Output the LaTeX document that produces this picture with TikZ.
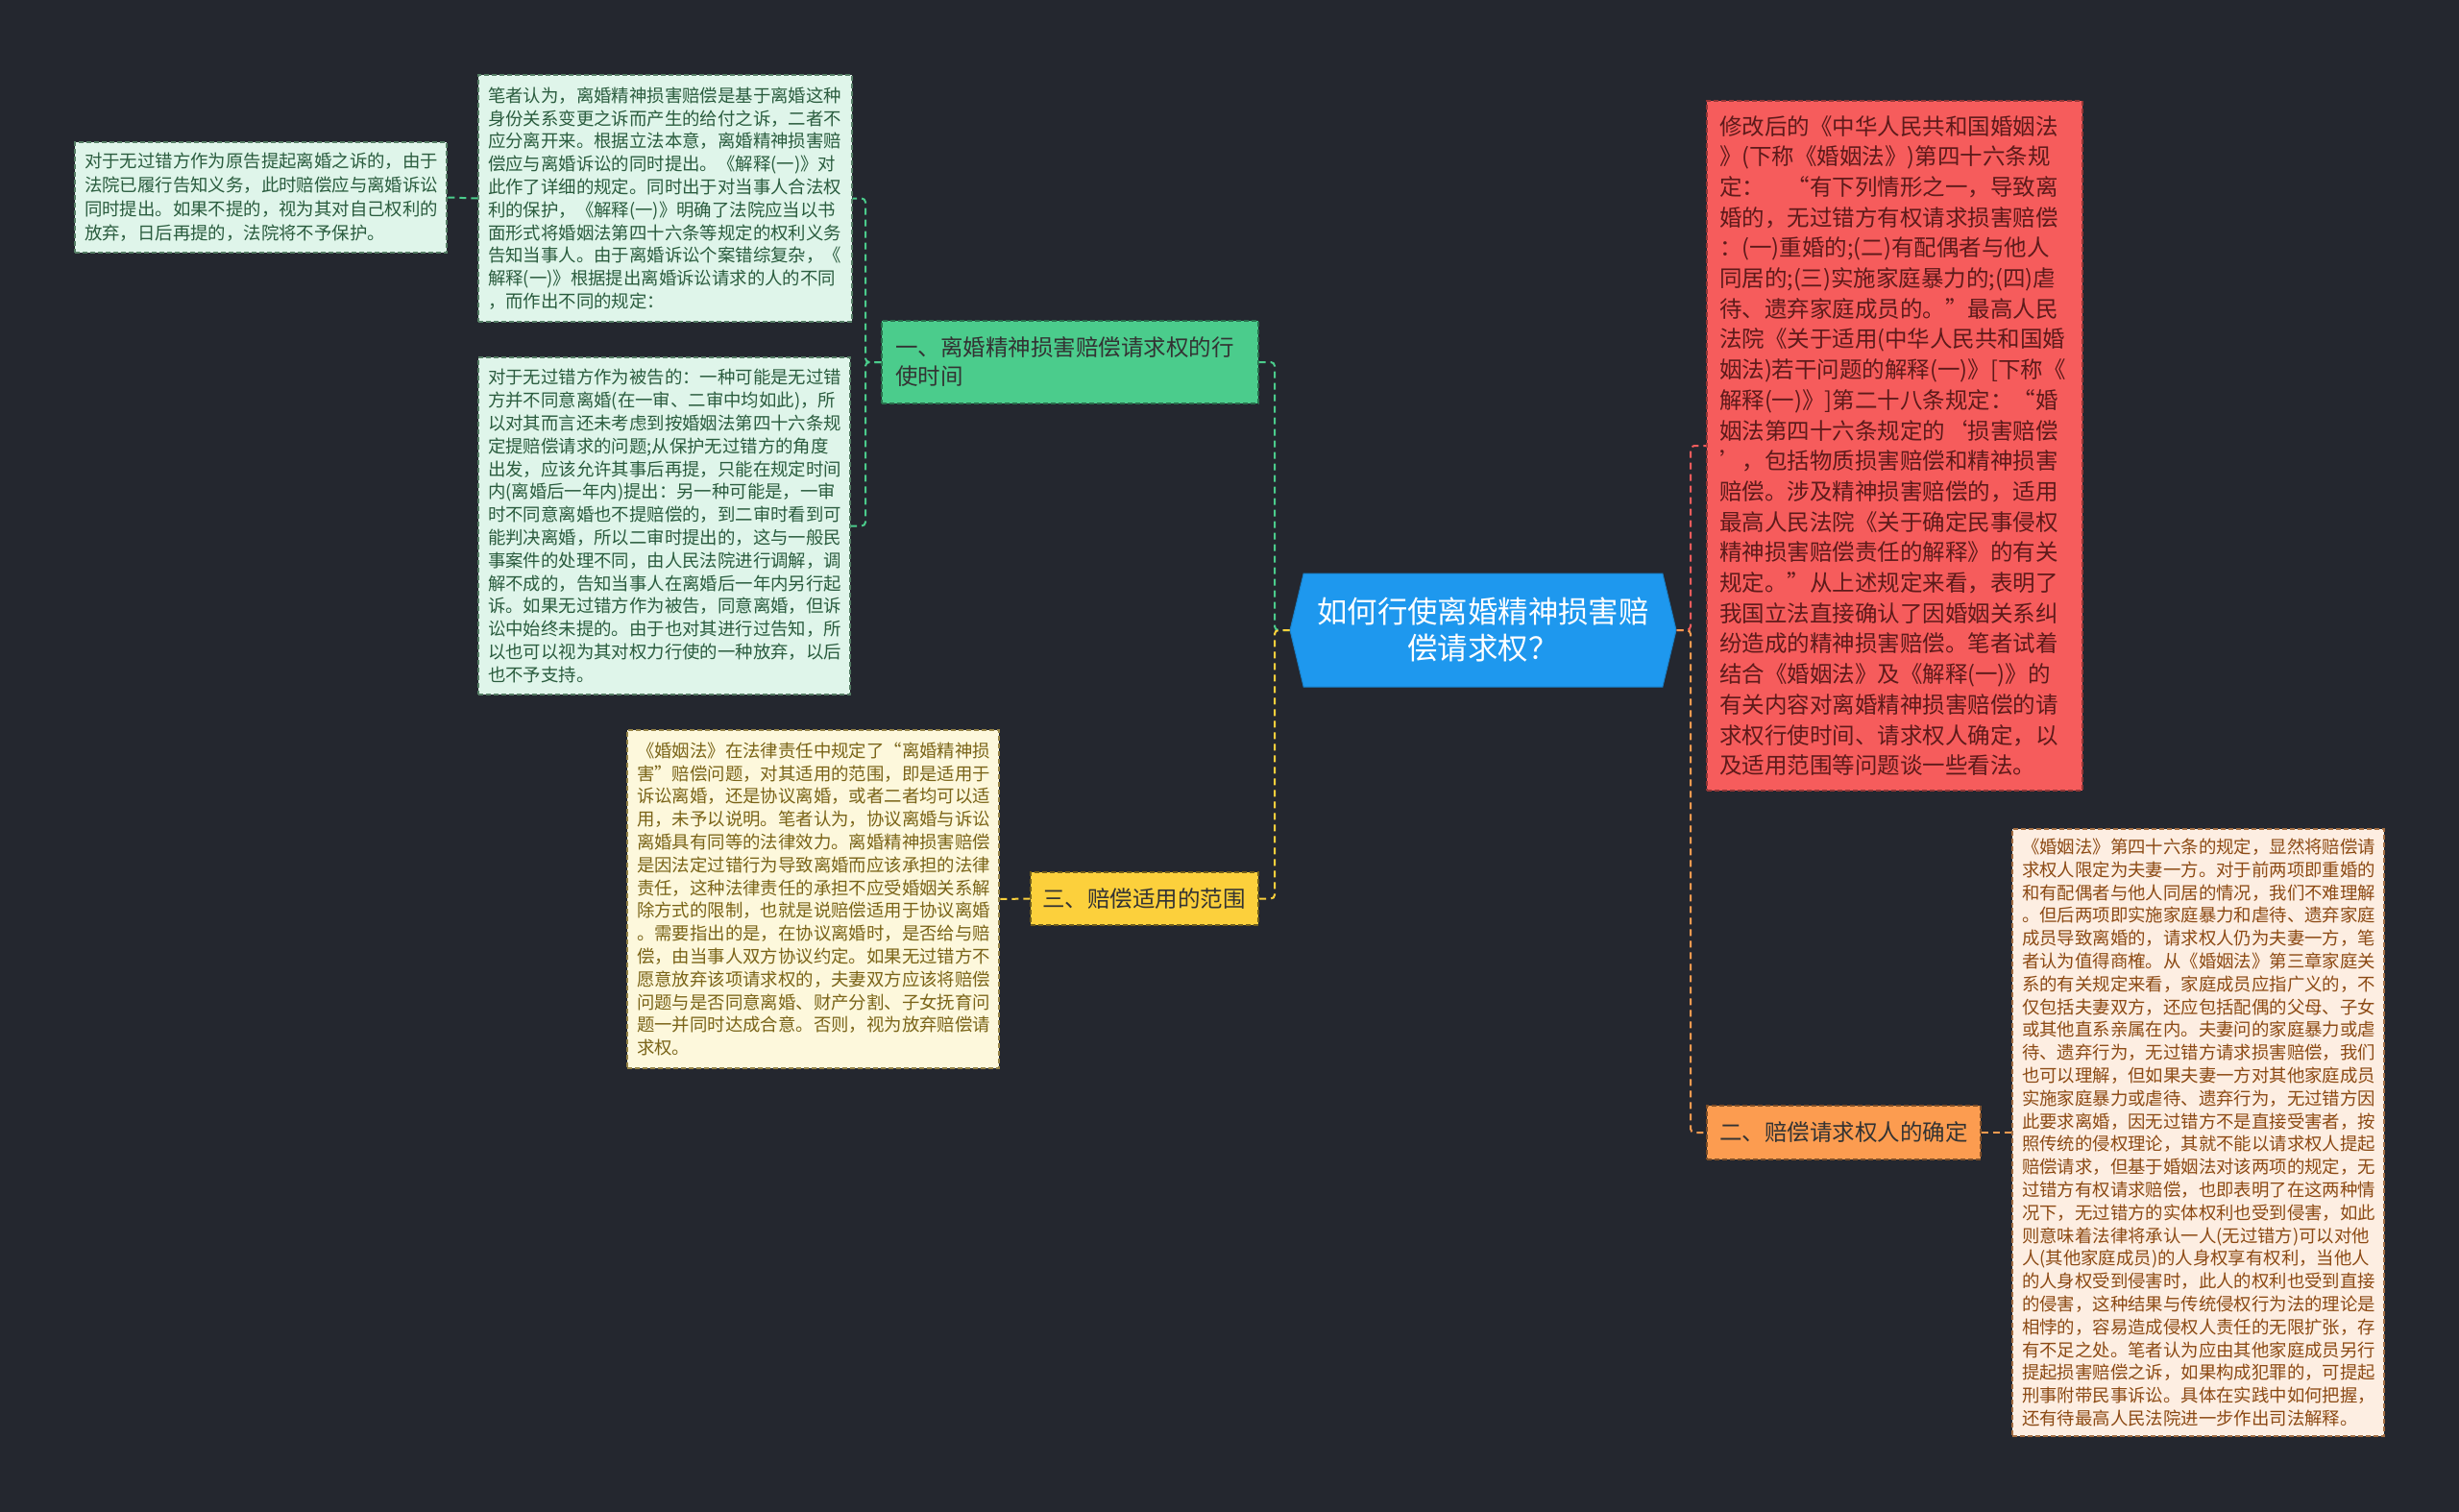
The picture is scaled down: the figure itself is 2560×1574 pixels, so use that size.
\documentclass[tikz,border=0pt]{standalone}
\usepackage{fontspec}
\newfontfamily\cjk{Noto Sans CJK SC}
\usetikzlibrary{shapes.symbols}
\definecolor{bg}{HTML}{24272F}
\definecolor{cblue}{HTML}{1E98EE}
\definecolor{cgreen}{HTML}{4BCC8C}
\definecolor{cgreenl}{HTML}{DFF5EA}
\definecolor{tgreen}{HTML}{2A5C3E}
\definecolor{cyel}{HTML}{FCD03C}
\definecolor{cyell}{HTML}{FDF8DC}
\definecolor{tyel}{HTML}{7A6418}
\definecolor{cred}{HTML}{F65C5C}
\definecolor{tred}{HTML}{5E1A1A}
\definecolor{corg}{HTML}{FC9C50}
\definecolor{corgl}{HTML}{FDEEE2}
\definecolor{torg}{HTML}{8C4A14}
\tikzset{
  box/.style={rectangle, inner sep=0pt, align=left, draw, dashed, line width=1.2pt, dash pattern=on 5pt off 3pt},
  smalltext/.style={font=\cjk\fontsize{18.4pt}{23.8pt}\selectfont},
  midtext/.style={font=\cjk\fontsize{23.5pt}{30pt}\selectfont},
  conn/.style={dashed, line width=2pt, dash pattern=on 7pt off 5pt, rounded corners=4pt},
}
\begin{document}
\begin{tikzpicture}[x=1pt,y=-1pt]
\fill[bg] (0,0) rectangle (2560,1574);
\useasboundingbox (0,0) rectangle (2560,1574);
\coordinate (jl) at (1327,656);
\coordinate (jr) at (1760,656);
\coordinate (jg) at (901,377);

% center
\node[shape=signal, signal to=west and east, signal pointer angle=153, fill=cblue, draw=cblue!85!black, line width=1pt,
  minimum width=402pt, minimum height=118pt, inner sep=0pt, text=white, align=center,
  font=\cjk\fontsize{31.4pt}{38pt}\selectfont] (c) at (1544,656) {如何行使离婚精神损害赔\\偿请求权？};

% green branch
\node[box, midtext, fill=cgreen, draw=cgreen!55!black, text=black!80, minimum width=392pt, minimum height=86pt, text width=364pt] (g) at (1114,377) {一、离婚精神损害赔偿请求权的行\\使时间};
\node[box, smalltext, fill=cgreenl, draw=tgreen!80, text=tgreen, minimum width=389pt, minimum height=257pt, text width=369pt] (g1) at (692.5,206.5) {笔者认为，离婚精神损害赔偿是基于离婚这种\\身份关系变更之诉而产生的给付之诉，二者不\\应分离开来。根据立法本意，离婚精神损害赔\\偿应与离婚诉讼的同时提出。《解释(一)》对\\此作了详细的规定。同时出于对当事人合法权\\利的保护，《解释(一)》明确了法院应当以书\\面形式将婚姻法第四十六条等规定的权利义务\\告知当事人。由于离婚诉讼个案错综复杂，《\\解释(一)》根据提出离婚诉讼请求的人的不同\\，而作出不同的规定：};
\node[box, smalltext, fill=cgreenl, draw=tgreen!80, text=tgreen, minimum width=387pt, minimum height=351pt, text width=367pt] (g2) at (691.5,547.5) {对于无过错方作为被告的：一种可能是无过错\\方并不同意离婚(在一审、二审中均如此)，所\\以对其而言还未考虑到按婚姻法第四十六条规\\定提赔偿请求的问题;从保护无过错方的角度\\出发，应该允许其事后再提，只能在规定时间\\内(离婚后一年内)提出：另一种可能是，一审\\时不同意离婚也不提赔偿的，到二审时看到可\\能判决离婚，所以二审时提出的，这与一般民\\事案件的处理不同，由人民法院进行调解，调\\解不成的，告知当事人在离婚后一年内另行起\\诉。如果无过错方作为被告，同意离婚，但诉\\讼中始终未提的。由于也对其进行过告知，所\\以也可以视为其对权力行使的一种放弃，以后\\也不予支持。};
\node[box, font=\cjk\fontsize{18.4pt}{25pt}\selectfont, fill=cgreenl, draw=tgreen!80, text=tgreen, minimum width=387pt, minimum height=115pt, text width=367pt] (gg) at (271.5,205.5) {对于无过错方作为原告提起离婚之诉的，由于\\法院已履行告知义务，此时赔偿应与离婚诉讼\\同时提出。如果不提的，视为其对自己权利的\\放弃，日后再提的，法院将不予保护。};

% yellow branch
\node[box, midtext, fill=cyel, draw=cyel!45!black, text=black!80, minimum width=237pt, minimum height=55pt, text width=213pt] (y) at (1191.5,935.5) {三、赔偿适用的范围};
\node[box, smalltext, fill=cyell, draw=tyel!80, text=tyel, minimum width=387pt, minimum height=352pt, text width=367pt] (y1) at (846.5,936) {《婚姻法》在法律责任中规定了“离婚精神损\\害”赔偿问题，对其适用的范围，即是适用于\\诉讼离婚，还是协议离婚，或者二者均可以适\\用，未予以说明。笔者认为，协议离婚与诉讼\\离婚具有同等的法律效力。离婚精神损害赔偿\\是因法定过错行为导致离婚而应该承担的法律\\责任，这种法律责任的承担不应受婚姻关系解\\除方式的限制，也就是说赔偿适用于协议离婚\\。需要指出的是，在协议离婚时，是否给与赔\\偿，由当事人双方协议约定。如果无过错方不\\愿意放弃该项请求权的，夫妻双方应该将赔偿\\问题与是否同意离婚、财产分割、子女抚育问\\题一并同时达成合意。否则，视为放弃赔偿请\\求权。};

% red node
\node[box, font=\cjk\fontsize{23.5pt}{31.7pt}\selectfont, fill=cred, draw=cred!60!black, text=tred, minimum width=391pt, minimum height=718pt, text width=365pt] (r) at (1972.5,464) {修改后的《中华人民共和国婚姻法\\》(下称《婚姻法》)第四十六条规\\定：　“有下列情形之一，导致离\\婚的，无过错方有权请求损害赔偿\\：(一)重婚的;(二)有配偶者与他人\\同居的;(三)实施家庭暴力的;(四)虐\\待、遗弃家庭成员的。”最高人民\\法院《关于适用(中华人民共和国婚\\姻法)若干问题的解释(一)》[下称《\\解释(一)》]第二十八条规定：“婚\\姻法第四十六条规定的‘损害赔偿\\’，包括物质损害赔偿和精神损害\\赔偿。涉及精神损害赔偿的，适用\\最高人民法院《关于确定民事侵权\\精神损害赔偿责任的解释》的有关\\规定。”从上述规定来看，表明了\\我国立法直接确认了因婚姻关系纠\\纷造成的精神损害赔偿。笔者试着\\结合《婚姻法》及《解释(一)》的\\有关内容对离婚精神损害赔偿的请\\求权行使时间、请求权人确定，以\\及适用范围等问题谈一些看法。};

% orange branch
\node[box, midtext, fill=corg, draw=corg!50!black, text=black!80, minimum width=285pt, minimum height=56pt, text width=259pt] (o) at (1919.5,1179) {二、赔偿请求权人的确定};
\node[box, smalltext, fill=corgl, draw=torg!80, text=torg, minimum width=387pt, minimum height=632pt, text width=367pt] (o1) at (2288.5,1179) {《婚姻法》第四十六条的规定，显然将赔偿请\\求权人限定为夫妻一方。对于前两项即重婚的\\和有配偶者与他人同居的情况，我们不难理解\\。但后两项即实施家庭暴力和虐待、遗弃家庭\\成员导致离婚的，请求权人仍为夫妻一方，笔\\者认为值得商榷。从《婚姻法》第三章家庭关\\系的有关规定来看，家庭成员应指广义的，不\\仅包括夫妻双方，还应包括配偶的父母、子女\\或其他直系亲属在内。夫妻问的家庭暴力或虐\\待、遗弃行为，无过错方请求损害赔偿，我们\\也可以理解，但如果夫妻一方对其他家庭成员\\实施家庭暴力或虐待、遗弃行为，无过错方因\\此要求离婚，因无过错方不是直接受害者，按\\照传统的侵权理论，其就不能以请求权人提起\\赔偿请求，但基于婚姻法对该两项的规定，无\\过错方有权请求赔偿，也即表明了在这两种情\\况下，无过错方的实体权利也受到侵害，如此\\则意味着法律将承认一人(无过错方)可以对他\\人(其他家庭成员)的人身权享有权利，当他人\\的人身权受到侵害时，此人的权利也受到直接\\的侵害，这种结果与传统侵权行为法的理论是\\相悖的，容易造成侵权人责任的无限扩张，存\\有不足之处。笔者认为应由其他家庭成员另行\\提起损害赔偿之诉，如果构成犯罪的，可提起\\刑事附带民事诉讼。具体在实践中如何把握，\\还有待最高人民法院进一步作出司法解释。};

% connectors
\draw[conn, cgreen] (c.west) -- (jl) |- (g.east);
\draw[conn, cyel] (c.west) -- (jl) |- (y.east);
\draw[conn, cred] (c.east) -- (jr) |- (r.west);
\draw[conn, corg] (c.east) -- (jr) |- (o.west);
\draw[conn, cgreen] (g.west) -- (jg) |- (g1.east);
\draw[conn, cgreen] (g.west) -- (jg) |- (g2.east);
\draw[conn, cgreen] (g1.west) -- (gg.east);
\draw[conn, cyel] (y.west) -- (y1.east);
\draw[conn, corg] (o.east) -- (o1.west);
\end{tikzpicture}
\end{document}
